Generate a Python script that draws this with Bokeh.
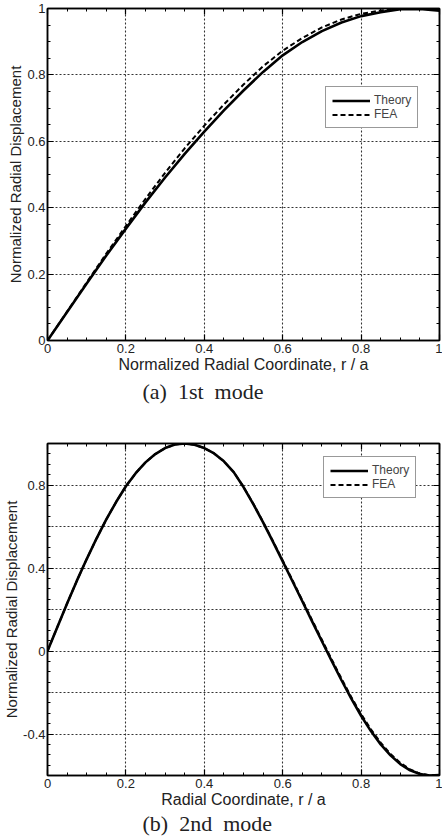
from bokeh.plotting import figure
from bokeh.layouts import column
from bokeh.models import (LinearAxis, FixedTicker, NumeralTickFormatter, CustomJSTickFormatter,
                          Title, Legend, LegendItem, Range1d)
from bokeh.embed import file_html
from bokeh.resources import INLINE

# ---------------- data ----------------
# (a) 1st mode
r1 = [0.0, 0.05, 0.1, 0.15, 0.2, 0.25, 0.3, 0.35, 0.4, 0.45, 0.5,
      0.55, 0.6, 0.65, 0.7, 0.75, 0.8, 0.85, 0.9, 0.95, 1.0]
theory1 = [0.0, 0.086, 0.172, 0.256, 0.337, 0.416, 0.491, 0.562, 0.629, 0.693, 0.753,
           0.809, 0.859, 0.899, 0.932, 0.958, 0.977, 0.989, 0.998, 0.999, 0.993]
fea1 = [0.0, 0.087, 0.175, 0.262, 0.345, 0.427, 0.505, 0.579, 0.647, 0.711, 0.771,
        0.826, 0.873, 0.911, 0.943, 0.967, 0.984, 0.994, 0.999, 1.0, 0.997]

# (b) 2nd mode
r2 = [0.0, 0.025, 0.05, 0.075, 0.1, 0.125, 0.15, 0.175, 0.2, 0.225, 0.25,
      0.275, 0.3, 0.325, 0.35, 0.375, 0.4, 0.425, 0.45, 0.475, 0.5,
      0.525, 0.55, 0.575, 0.6, 0.625, 0.65, 0.675, 0.7, 0.725, 0.75,
      0.775, 0.8, 0.825, 0.85, 0.875, 0.9, 0.925, 0.95, 0.975, 1.0]
theory2 = [0.0, 0.115, 0.229, 0.339, 0.443, 0.542, 0.634, 0.718, 0.794, 0.857, 0.909,
           0.949, 0.978, 0.995, 1.0, 0.994, 0.978, 0.952, 0.914, 0.862, 0.79,
           0.708, 0.62, 0.527, 0.432, 0.336, 0.24, 0.143, 0.047, -0.048, -0.141,
           -0.23, -0.312, -0.386, -0.45, -0.503, -0.545, -0.575, -0.593, -0.6, -0.598]
fea2 = [0.0, 0.115, 0.229, 0.339, 0.443, 0.542, 0.634, 0.718, 0.794, 0.857, 0.909,
        0.949, 0.978, 0.995, 1.0, 0.994, 0.978, 0.952, 0.914, 0.862, 0.791,
        0.71, 0.622, 0.53, 0.436, 0.341, 0.245, 0.149, 0.054, -0.041, -0.133,
        -0.222, -0.304, -0.378, -0.442, -0.496, -0.539, -0.571, -0.591, -0.599, -0.598]

x_ticks = [0.0, 0.2, 0.4, 0.6, 0.8, 1.0]
y1_ticks = [0.0, 0.2, 0.4, 0.6, 0.8, 1.0]
y2_label_ticks = [-0.4, 0.0, 0.4, 0.8]
y2_grid_ticks = [-0.6, -0.4, -0.2, 0.0, 0.2, 0.4, 0.6, 0.8, 1.0]
x_minor = [i * 0.05 for i in range(0, 21)]
y1_minor = [i * 0.05 for i in range(0, 21)]
y2_minor = [-0.6 + i * 0.05 for i in range(0, 33)]

captions = ["(a)\u00a0\u00a01st\u00a0\u00a0mode", "(b)\u00a0\u00a02nd\u00a0\u00a0mode"]
x_labels = ["Normalized Radial Coordinate, r / a", "Radial Coordinate, r / a"]
y_label = "Normalized Radial Displacement"

SANS = "Liberation Sans"
SERIF = "Liberation Serif"


def style_axis(ax, ticker, labels=True):
    ax.ticker = ticker
    ax.major_tick_in = 6
    ax.major_tick_out = 0
    ax.minor_tick_in = 3
    ax.minor_tick_out = 0
    ax.axis_line_color = "black"
    ax.axis_line_width = 1.5
    ax.major_tick_line_color = "black"
    ax.minor_tick_line_color = "black"
    ax.major_tick_line_width = 1.2
    if labels:
        ax.formatter = NumeralTickFormatter(format="0.[0]")
        ax.major_label_text_font = SANS
        ax.major_label_text_font_size = "13px"
        ax.major_label_text_color = "#222222"
    else:
        ax.formatter = CustomJSTickFormatter(code="return ''")
        ax.major_label_text_font_size = "0px"
        ax.major_label_standoff = 0


def make_panel(r, th, fe, y_rng, y_ticks, y_grid, y_minor, height, top, bottom,
               xlab, cap, legend_loc, cap_standoff):
    p = figure(width=442, height=height, x_range=Range1d(0, 1), y_range=Range1d(*y_rng),
               output_backend="svg", toolbar_location=None,
               min_border_left=45, min_border_right=3, min_border_top=top,
               min_border_bottom=bottom)
    p.background_fill_color = "white"
    p.border_fill_color = "white"
    p.outline_line_color = "black"
    p.outline_line_width = 1.5

    xt = FixedTicker(ticks=x_ticks, minor_ticks=x_minor)
    yt = FixedTicker(ticks=y_ticks, minor_ticks=y_minor)

    style_axis(p.xaxis[0], xt)
    style_axis(p.yaxis[0], yt)
    p.xaxis[0].major_label_standoff = 3
    p.yaxis[0].major_label_standoff = 2
    p.xaxis[0].axis_label = xlab
    p.yaxis[0].axis_label = y_label
    for ax in (p.xaxis[0], p.yaxis[0]):
        ax.axis_label_text_font = SANS
        ax.axis_label_text_font_style = "normal"
        ax.axis_label_text_color = "#222222"
    p.xaxis[0].axis_label_text_font_size = "16px"
    p.yaxis[0].axis_label_text_font_size = "15px"
    p.xaxis[0].axis_label_standoff = 0
    p.yaxis[0].axis_label_standoff = 0

    top_ax = LinearAxis()
    style_axis(top_ax, FixedTicker(ticks=x_ticks, minor_ticks=x_minor), labels=False)
    right_ax = LinearAxis()
    style_axis(right_ax, FixedTicker(ticks=y_ticks, minor_ticks=y_minor), labels=False)
    p.add_layout(top_ax, "above")
    p.add_layout(right_ax, "right")

    p.xgrid.ticker = FixedTicker(ticks=x_ticks)
    p.ygrid.ticker = FixedTicker(ticks=y_grid)
    for g in (p.xgrid[0], p.ygrid[0]):
        g.grid_line_color = "#333333"
        g.grid_line_dash = "2 2"
        g.grid_line_width = 1.1

    t = p.line(r, th, line_color="black", line_width=2.6)
    f = p.line(r, fe, line_color="black", line_width=2.0, line_dash="5 3")

    leg = Legend(items=[LegendItem(label="Theory", renderers=[t]),
                        LegendItem(label="FEA", renderers=[f])],
                 location=legend_loc)
    leg.border_line_color = "#333333"
    leg.border_line_width = 1.5
    leg.background_fill_color = "white"
    leg.background_fill_alpha = 1.0
    leg.padding = 6
    leg.spacing = 0
    leg.margin = 0
    leg.label_text_font = SANS
    leg.label_text_font_size = "12px"
    leg.label_height = 13
    leg.glyph_height = 13
    leg.glyph_width = 38
    leg.label_standoff = 4
    p.add_layout(leg)

    cap_title = Title(text=cap, align="left", offset=95, standoff=cap_standoff,
                      text_font=SERIF, text_font_size="22px",
                      text_font_style="normal", text_color="#222222")
    p.add_layout(cap_title, "below")
    return p


p1 = make_panel(r1, theory1, fea1, (0, 1), y1_ticks, y1_ticks, y1_minor,
                410, 8, 70, x_labels[0], captions[0], (278, 212), 2)
p2 = make_panel(r2, theory2, fea2, (-0.6, 1.0), y2_label_ticks, y2_grid_ticks, y2_minor,
                427, 33, 62, x_labels[1], captions[1], (276, 277), -3)

layout = column(p1, p2, spacing=0)
open("out.html", "w").write(file_html(layout, INLINE))
